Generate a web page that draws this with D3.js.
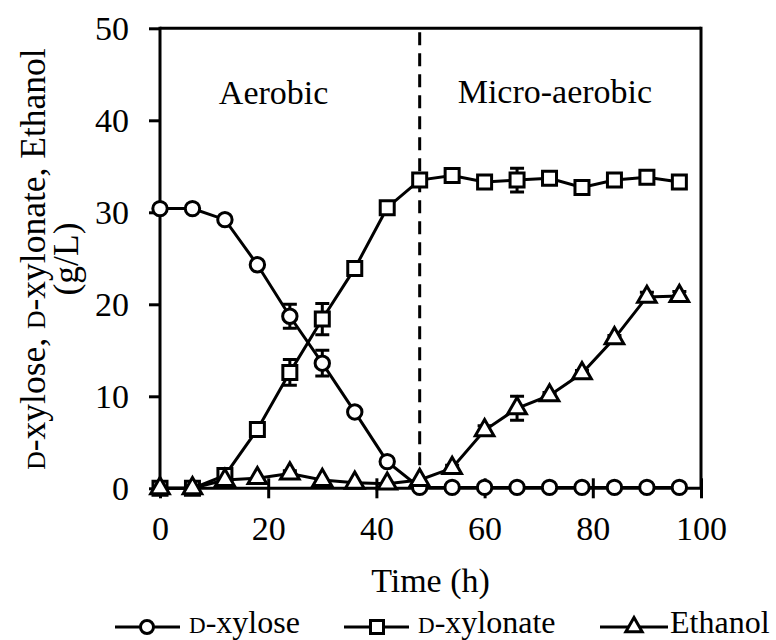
<!DOCTYPE html>
<html><head><meta charset="utf-8">
<script src="https://cdn.jsdelivr.net/npm/d3@7"></script>
<style>
html,body{margin:0;padding:0;background:#fff;}
svg text{font-family:"Liberation Serif","Times New Roman",serif;fill:#000;}
</style>
</head><body>
<svg id="chart" width="776" height="640"></svg>
<script>
// ---- data ----
const times = [0,6,12,18,24,30,36,42,48,54,60,66,72,78,84,90,96];
const xyloseVals    = [30.4,30.4,29.2,24.3,18.7,13.6,8.3,2.9,0.1,0.1,0.1,0.1,0.1,0.1,0.1,0.1,0.1];
const xyloseErr     = [0,0,0,0.3,1.3,1.4,0.3,0.3,0,0,0,0,0,0,0,0,0];
const xylonateVals  = [0,0,1.4,6.4,12.6,18.4,23.9,30.5,33.5,34.0,33.3,33.5,33.7,32.7,33.5,33.8,33.3];
const xylonateErr   = [0,0,0,0,1.4,1.7,0.5,0.5,0.3,0,0,1.3,0,0,0,0,0];
const ethanolVals   = [0,0,0.9,1.1,1.6,0.9,0.6,0.5,0.9,2.2,6.3,8.7,10.1,12.5,16.3,20.8,20.9];
const ethanolErr    = [0,0,0,0,0.3,0,0,0,0,0.3,0.5,1.3,0.3,0.3,0.3,0.5,0.5];
const xTicks = [0,20,40,60,80,100];
const yTicks = [0,10,20,30,40,50];
const phaseSwitch = 48;
const phaseLabels = [{text:"Aerobic", t:21, v:41.8},{text:"Micro-aerobic", t:73, v:41.9}];
const seriesNames = ["xylose","xylonate","Ethanol"];

const svg = d3.select("#chart");
const L=160, R=701, T=28.3, B=488.3;
const x = d3.scaleLinear().domain([0,100]).range([L,R]);
const y = d3.scaleLinear().domain([0,50]).range([B,T]);
const FS = 34;
const LFS = 32;
const SW = 3;

// frame top & right
svg.append("line").attr("x1",L).attr("x2",R).attr("y1",T).attr("y2",T).attr("stroke","#000").attr("stroke-width",SW);
svg.append("line").attr("x1",R).attr("x2",R).attr("y1",T-1.5).attr("y2",B).attr("stroke","#000").attr("stroke-width",SW);

// y axis
const gy = svg.append("g").attr("transform",`translate(${L},0)`)
  .call(d3.axisLeft(y).tickValues(yTicks).tickSize(11).tickSizeOuter(0).tickPadding(20));
gy.attr("font-family",null);
gy.select(".domain").attr("stroke-width",SW).attr("d",`M0,${T-1.5}V${B+1.5}`);
gy.selectAll(".tick line").attr("stroke-width",SW);
gy.selectAll(".tick text").attr("font-size",FS).attr("dy","0.34em");

// x axis
const gx = svg.append("g").attr("transform",`translate(0,${B})`)
  .call(d3.axisBottom(x).tickValues(xTicks).tickSize(10).tickSizeOuter(0).tickPadding(17));
gx.attr("font-family",null);
gx.select(".domain").attr("stroke-width",SW).attr("d",`M${L},0H${R}`);
gx.selectAll(".tick line").attr("stroke-width",SW).attr("y1",-10).attr("y2",10);
gx.selectAll(".tick text").attr("font-size",FS).attr("dy","0.72em");

// dashed phase line
svg.append("line").attr("x1",x(phaseSwitch)).attr("x2",x(phaseSwitch)).attr("y1",T+4).attr("y2",B)
  .attr("stroke","#000").attr("stroke-width",SW).attr("stroke-dasharray","13,8");

// phase labels
svg.selectAll(".phase").data(phaseLabels).join("text").attr("class","phase")
  .attr("x",d=>x(d.t)).attr("y",d=>y(d.v)).attr("text-anchor","middle").attr("font-size",FS).text(d=>d.text);

// axis titles
svg.append("text").attr("x",(L+R)/2).attr("y",592).attr("text-anchor","middle").attr("font-size",FS).text("Time (h)");
const YFS = 35.5;
const yt1 = svg.append("text").attr("transform",`translate(45,259) rotate(-90)`).attr("text-anchor","middle").attr("font-size",YFS);
function scD(t,fs){ t.append("tspan").attr("font-size",fs*0.72).text("D"); }
scD(yt1,YFS); yt1.append("tspan").text("-xylose, ");
scD(yt1,YFS); yt1.append("tspan").text("-xylonate, Ethanol");
svg.append("text").attr("transform",`translate(78,259) rotate(-90)`).attr("text-anchor","middle").attr("font-size",YFS).text("(g/L)");

// symbols
const shapes = [d3.symbolCircle, d3.symbolSquare, d3.symbolTriangle];
const sizes = [Math.PI*7.2*7.2, 14*14, 150];
const legSizes = [Math.PI*6.5*6.5, 13*13, 115];
const series = [
  {vals:xyloseVals, err:xyloseErr},
  {vals:xylonateVals, err:xylonateErr},
  {vals:ethanolVals, err:ethanolErr}
];
const line = d3.line().x(d=>x(d.t)).y(d=>y(d.v));
series.forEach((s,i)=>{
  const pts = times.map((t,j)=>({t, v:s.vals[j], e:s.err[j]}));
  const g = svg.append("g");
  g.append("path").datum(pts).attr("d",line).attr("fill","none").attr("stroke","#000").attr("stroke-width",SW);
  const eb = pts.filter(d=>d.e>0);
  g.selectAll(".eb").data(eb).join("path").attr("fill","none").attr("stroke","#000").attr("stroke-width",SW)
    .attr("d",d=>`M${x(d.t)},${y(d.v-d.e)}V${y(d.v+d.e)}M${x(d.t)-7},${y(d.v+d.e)}H${x(d.t)+7}M${x(d.t)-7},${y(d.v-d.e)}H${x(d.t)+7}`);
  g.selectAll(".m").data(pts).join("path")
    .attr("transform",d=>`translate(${x(d.t)},${y(d.v)})`)
    .attr("d",d3.symbol(shapes[i], sizes[i])).attr("fill","#fff").attr("stroke","#000").attr("stroke-width",SW);
});

// legend
const legend = [
  {x1:115, x2:180, cx:147, tx:189},
  {x1:344, x2:409, cx:377, tx:418},
  {x1:600, x2:668, cx:634, tx:670}
];
const ly = 627;
legend.forEach((l,i)=>{
  svg.append("line").attr("x1",l.x1).attr("x2",l.x2).attr("y1",ly).attr("y2",ly).attr("stroke","#000").attr("stroke-width",SW);
  svg.append("path").attr("transform",`translate(${l.cx},${ly})`).attr("d",d3.symbol(shapes[i],legSizes[i])())
    .attr("fill","#fff").attr("stroke","#000").attr("stroke-width",SW);
  const t = svg.append("text").attr("x",l.tx).attr("y",ly+6).attr("font-size",LFS);
  if(i<2){ scD(t,LFS); t.append("tspan").text("-"+seriesNames[i]); }
  else t.text(seriesNames[i]);
});
</script>
</body></html>
